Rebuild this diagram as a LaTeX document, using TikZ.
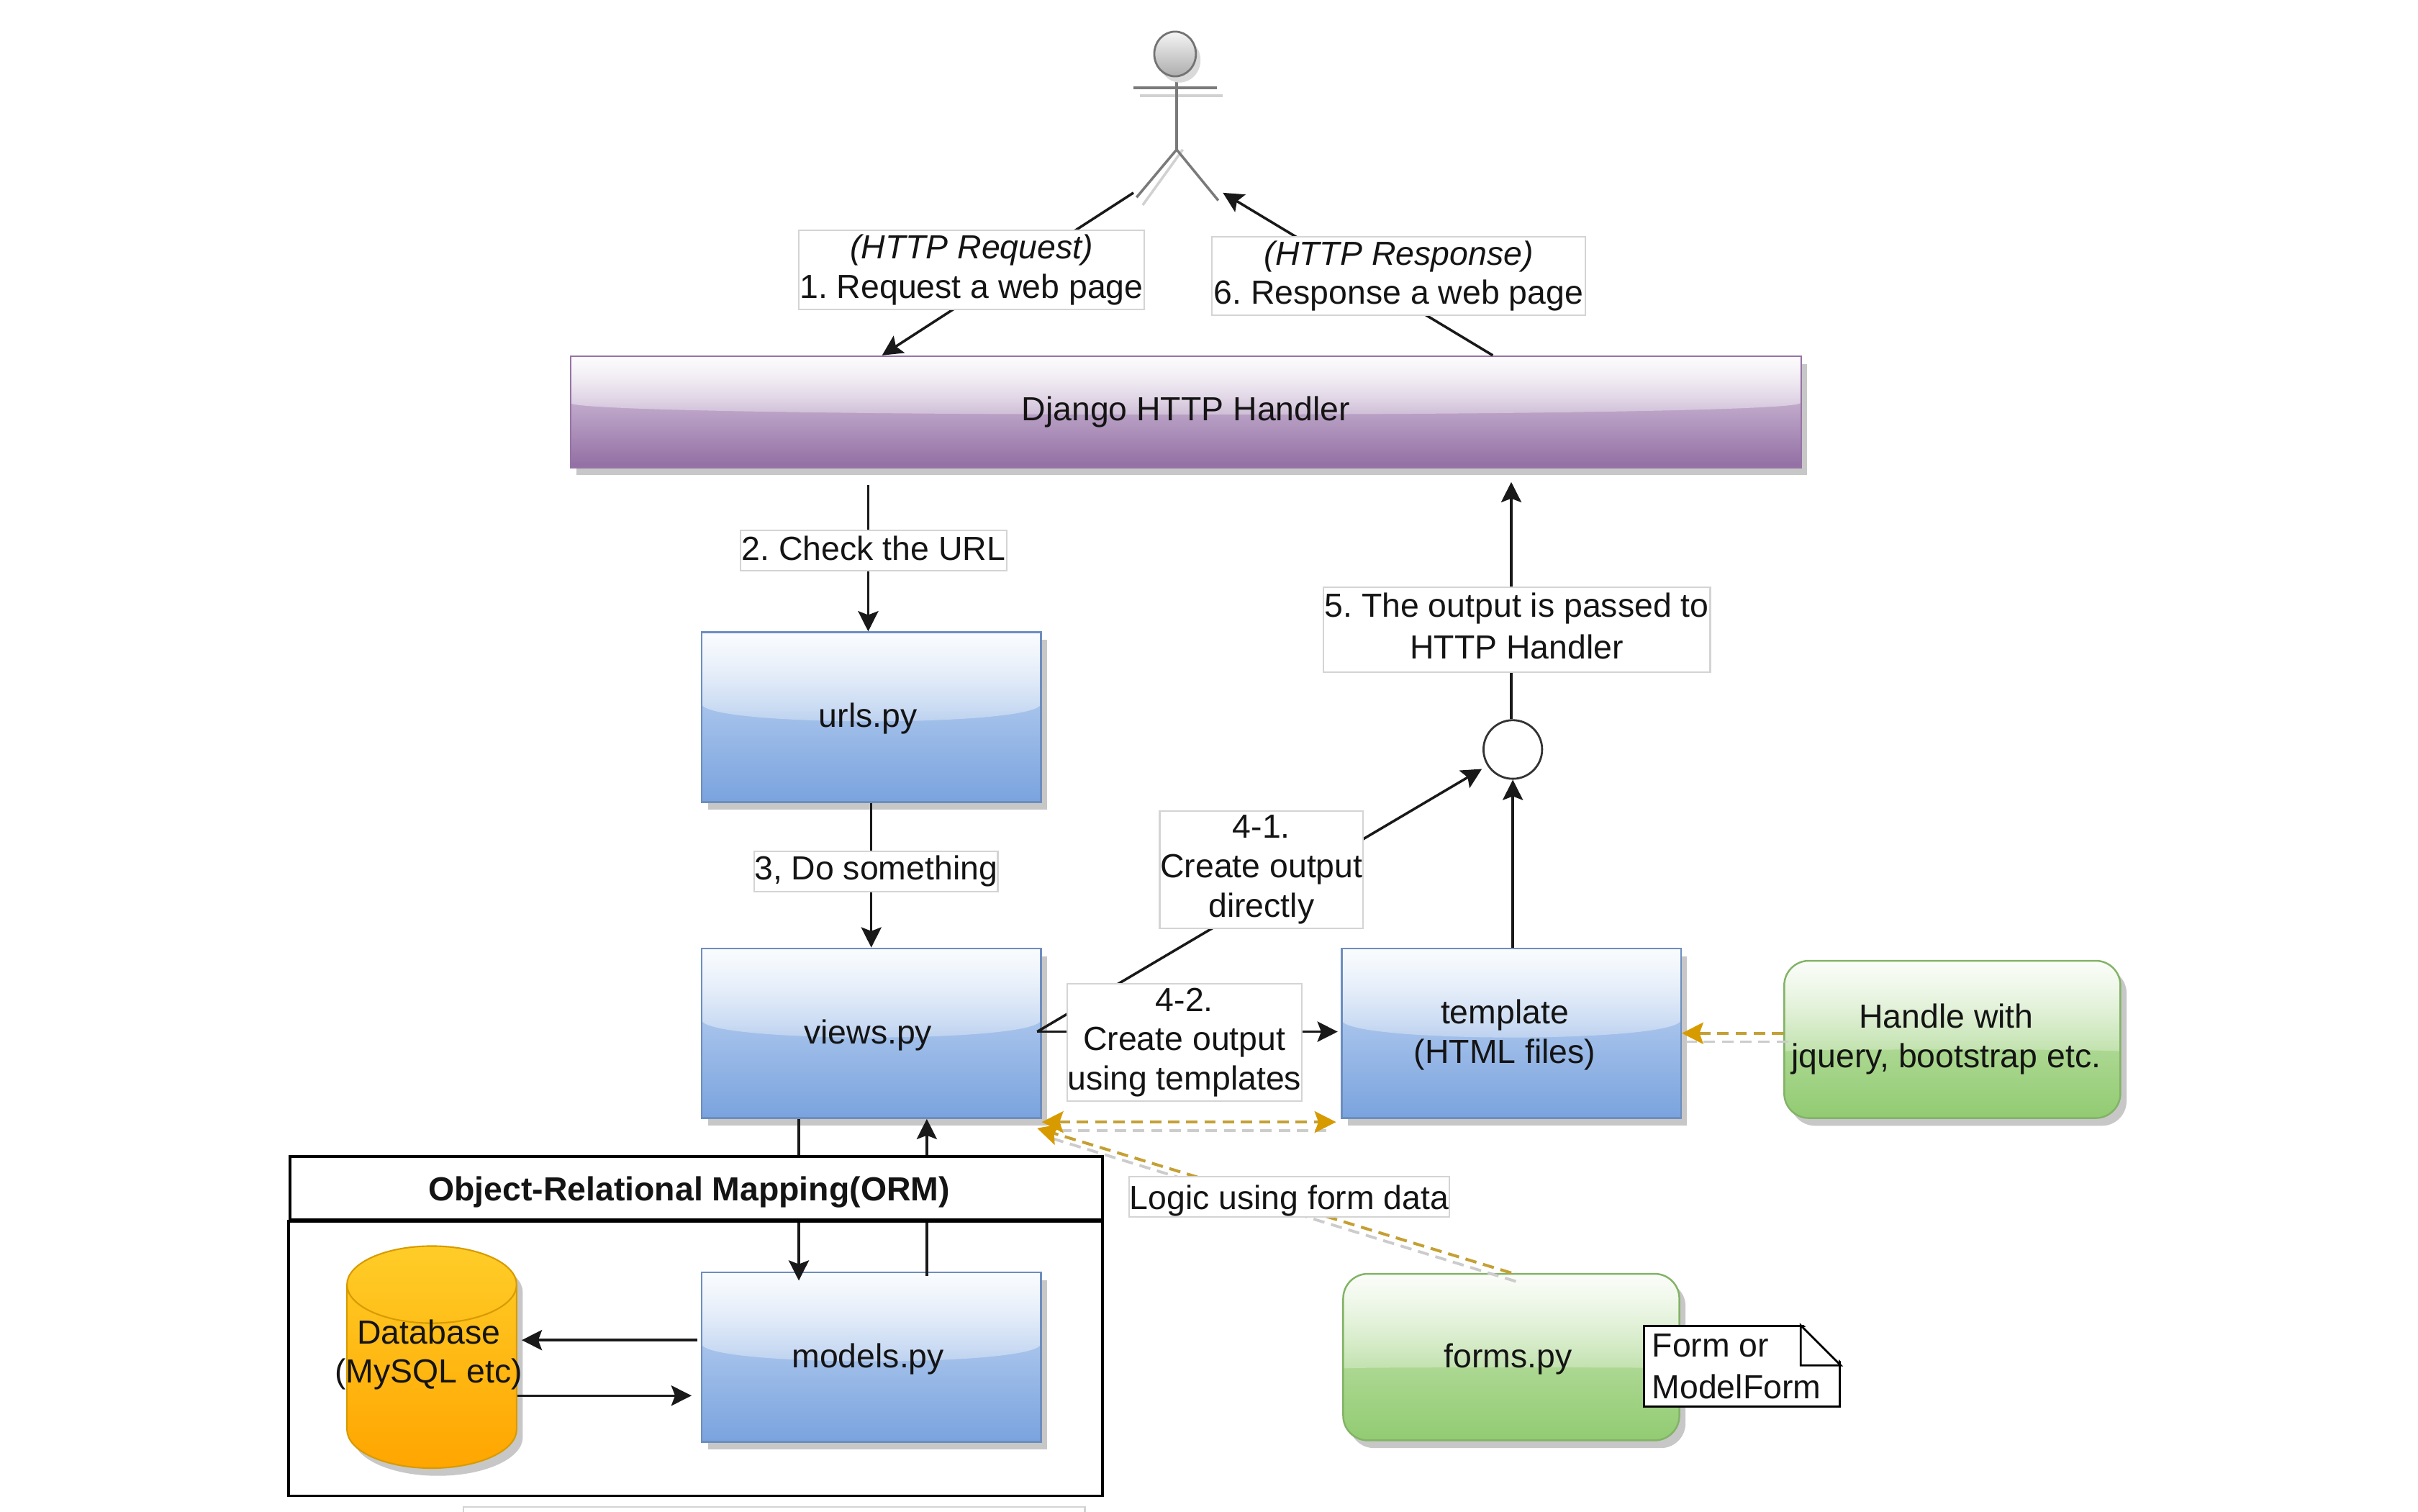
\documentclass[tikz,border=0pt]{standalone}
\usepackage{fontspec}
\setmainfont{Liberation Sans}
\usetikzlibrary{shapes,shapes.geometric,arrows.meta,shadows,fadings,calc}

\def\px{0.021429cm}
\newcommand{\tk}{\kern.09cm\rule{0pt}{11pt}}
\definecolor{txtcol}{HTML}{141414}
\definecolor{purpleline}{HTML}{9673A6}
\definecolor{blueline}{HTML}{6C8EBF}
\definecolor{greenline}{HTML}{82B366}
\definecolor{goldline}{HTML}{C4A035}
\definecolor{goldtipcol}{HTML}{D79B00}
\definecolor{lblline}{HTML}{D4D4D4}
\tikzfading[name=glossfade, top color=transparent!8, bottom color=transparent!72]

\newcommand{\glossy}{
  \coordinate (gnw) at (path picture bounding box.north west);
  \coordinate (gne) at (path picture bounding box.north east);
  \coordinate (gsw) at (path picture bounding box.south west);
  \coordinate (gse) at (path picture bounding box.south east);
  \fill[white, path fading=glossfade] (gnw) -- (gne) -- ($(gne)!.42!(gse)$)
    .. controls ($(gne)!.56!(gse)$) and ($(gnw)!.56!(gsw)$) .. ($(gnw)!.42!(gsw)$) -- cycle;
}

\tikzset{
  every node/.style={font=\fontsize{13.2}{15.6}\selectfont\frenchspacing, text=txtcol, align=center, inner sep=0pt},
  >={Stealth[length=8pt,width=8pt,inset=1.5pt]},
  flow/.style={->, line width=1pt, black!90},
  goldflow/.style={line width=1.15pt, draw=goldline, dash pattern=on 4.5pt off 2.7pt},
  goldshadow/.style={line width=1.1pt, draw=black!20, dash pattern=on 4.5pt off 2.7pt},
  goldtip/.style={>={Stealth[length=8.5pt,width=8.5pt,inset=1.5pt,color=goldtipcol]}},
  boxshadow/.style={general shadow={shadow xshift=4*\px, shadow yshift=-5*\px, fill=black!22}},
  glassbox/.style={draw, line width=0.7pt, boxshadow, path picture={\glossy}},
  bluebox/.style={glassbox, draw=blueline,
    top color={rgb,255:red,200;green,219;blue,245}, bottom color={rgb,255:red,122;green,163;blue,222},
    minimum width=220*\px, minimum height=110*\px},
  greenbox/.style={glassbox, draw=greenline, rounded corners=16*\px,
    top color={rgb,255:red,205;green,232;blue,186}, bottom color={rgb,255:red,146;green,203;blue,114}},
  lbl/.style={draw=lblline, line width=0.6pt, fill=white},
  actorline/.style={draw=black!52, line width=1pt},
  actorshadow/.style={draw=black!18, line width=1pt}
}

\begin{document}
\begin{tikzpicture}[x=\px,y=-\px]
  \useasboundingbox (0,0) rectangle (1568,980);

  % actor
  \draw[actorshadow] (739,62) -- (793,62);
  \draw[actorshadow] (767,97) -- (741,133);
  \draw[actorline] (735,57) -- (789,57);
  \draw[actorline] (763,48) -- (763,97);
  \draw[actorline] (737,128) -- (763,97) -- (790,130);
  \node[ellipse, draw=black!55, line width=0.8pt, minimum width=27*\px, minimum height=29*\px,
    top color=black!4, bottom color=black!32, general shadow={shadow xshift=3*\px, shadow yshift=-4*\px, fill=black!15}] (head) at (762,35) {};
  \coordinate (footL) at (735,125);
  \coordinate (footR) at (793,125);

  % boxes
  \node[glassbox, draw=purpleline, top color={rgb,255:red,226;green,214;blue,232}, bottom color={rgb,255:red,146;green,110;blue,163},
    minimum width=798*\px, minimum height=72*\px] (django) at (769,267) {Django HTTP Handler};
  \node[bluebox] (urls) at (565,465) {urls.py\tk};
  \node[bluebox] (views) at (565,670) {views.py\tk};
  \node[bluebox] (template) at (980,670) {template\tk\tk\\(HTML files)\tk\tk};
  \node[bluebox] (models) at (565,880) {models.py\tk};
  \node[greenbox, minimum width=218*\px, minimum height=102*\px] (handle) at (1266,674) {Handle with\kern.17cm\\jquery, bootstrap etc.\kern.17cm};
  \node[greenbox, minimum width=218*\px, minimum height=108*\px] (forms) at (980,880) {forms.py\tk};
  \node[circle, draw=black!80, line width=0.8pt, fill=white, minimum size=38*\px] (join) at (981,486) {};

  % database
  \path[draw={rgb,255:red,215;green,155;blue,0}, line width=0.6pt,
    top color={rgb,255:red,255;green,205;blue,40}, bottom color={rgb,255:red,255;green,165;blue,0}, boxshadow]
    (225,833) arc[start angle=180, end angle=0, x radius=55*\px, y radius=25*\px] -- (335,927)
    arc[start angle=0, end angle=-180, x radius=55*\px, y radius=25*\px] -- cycle;
  \draw[draw={rgb,255:red,215;green,155;blue,0}, line width=0.6pt] (225,833) arc[start angle=180, end angle=360, x radius=55*\px, y radius=25*\px];
  \node[minimum width=110*\px, minimum height=144*\px] (db) at (280,880) {};
  \node (dbtext) at (278,878.5) {Database\\(MySQL etc)};

  % connectors
  \draw[flow] (footL) -- ([xshift=-197*\px]django.north);
  \draw[flow] ([xshift=199*\px]django.north) -- (footR);
  \draw[flow] ([xshift=-206*\px,yshift=-11*\px]django.south) -- ([xshift=-2*\px]urls.north);
  \draw[flow] (urls.south) -- (views.north);
  \draw[flow] ([xshift=-47*\px]views.south) -- ([xshift=-47*\px,yshift=-6*\px]models.north);
  \draw[flow] ([xshift=36*\px,yshift=-3*\px]models.north) -- ([xshift=36*\px]views.south);
  \draw[flow] ([yshift=11*\px,xshift=-2*\px]models.west) -- ([yshift=11*\px,xshift=3*\px]db.east);
  \draw[flow] ([yshift=-25*\px]db.east) -- ([yshift=-25*\px,xshift=-6*\px]models.west);
  \draw[flow] ([xshift=-3*\px,yshift=1*\px]views.east) -- ([xshift=-2*\px,yshift=1*\px]template.west);
  \draw[flow] ([xshift=-3*\px,yshift=1*\px]views.east) -- ([xshift=-5*\px]join.220);
  \draw[flow] ([xshift=1*\px]template.north) -- (join.south);
  \draw[flow] ([xshift=-1*\px]join.north) -- ([xshift=211*\px,yshift=-9*\px]django.south);
  \draw[goldshadow] ([xshift=3*\px,yshift=-1.5*\px]handle.west) -- ([xshift=3*\px,yshift=-5.5*\px]template.east);
  \draw[goldshadow] ([yshift=-7.5*\px]views.south east) -- ([yshift=-7.5*\px,xshift=-8*\px]template.south west);
  \draw[goldshadow] ([xshift=3*\px,yshift=-5.5*\px]forms.north) -- ([xshift=3*\px,yshift=-11.5*\px]views.south east);
  \draw[goldflow, goldtip, ->] ([yshift=4*\px]handle.west) -- (template.east);
  \draw[goldflow, goldtip, <->] ([yshift=-2*\px]views.south east) -- ([yshift=-2*\px,xshift=-3*\px]template.south west);
  \draw[goldflow, goldtip, ->] (forms.north) -- ([xshift=-3*\px,yshift=-6*\px]views.south east);

  % swimlane around the database and the models
  \node[draw, line width=1pt, fill=white, minimum width=527*\px, minimum height=41*\px, font=\fontsize{13.2}{15.6}\selectfont\bfseries\frenchspacing] (orm) at (451.5,770.5) {\rule{0pt}{12.5pt}Object-Relational Mapping(ORM)\kern.2cm};
  \draw[line width=1pt] (orm.south west) rectangle (715,970);

  % note
  \node[draw, line width=0.8pt, fill=white, minimum width=127*\px, minimum height=52*\px] (note) at (1129.5,886) {};
  \fill[white] ([xshift=-25*\px,yshift=0.7pt]note.north east) -- ([xshift=1pt,yshift=0.7pt]note.north east) -- ([xshift=1pt,yshift=-25*\px]note.north east) -- cycle;
  \draw[line width=0.8pt] ([xshift=-26*\px]note.north east) -- ([yshift=-26*\px]note.north east) -- ([xshift=-26*\px,yshift=-26*\px]note.north east) -- cycle;
  \node[anchor=west, align=left] (notetext) at (1071,886) {Form or\\[1pt]ModelForm};

  % edge labels
  \node[lbl, minimum width=224*\px, minimum height=51*\px] (reqlbl) at (630,175) {\textit{(HTTP Request)}\\1. Request a web page};
  \node[lbl, minimum width=242*\px, minimum height=51*\px] (resplbl) at (907,179) {\textit{(HTTP Response)}\\6. Response a web page};
  \node[lbl, minimum width=173*\px, minimum height=26*\px] (checklbl) at (566.5,357) {2. Check the URL\rule[-2pt]{0pt}{0pt}};
  \node[lbl, minimum width=158*\px, minimum height=26*\px] (dolbl) at (568,565) {3, Do something};
  \node[lbl, minimum width=251*\px, minimum height=55*\px] (outlbl) at (983.5,408.5) {5. The output is passed to\\[1pt]HTTP Handler\rule[-3.4pt]{0pt}{0pt}};
  \node[lbl, minimum width=132*\px, minimum height=76*\px] (directlbl) at (818,564) {4-1.\\Create output\\directly};
  \node[lbl, minimum width=152*\px, minimum height=76*\px] (tmpllbl) at (768,676) {4-2.\\Create output\\using templates};
  \node[lbl, minimum width=208*\px, minimum height=26*\px] (formlbl) at (836,776) {\rule{0pt}{12.5pt}Logic using form data};
  \node[lbl, minimum width=403*\px, minimum height=20*\px] (cutlbl) at (502,987) {};
\end{tikzpicture}
\end{document}
